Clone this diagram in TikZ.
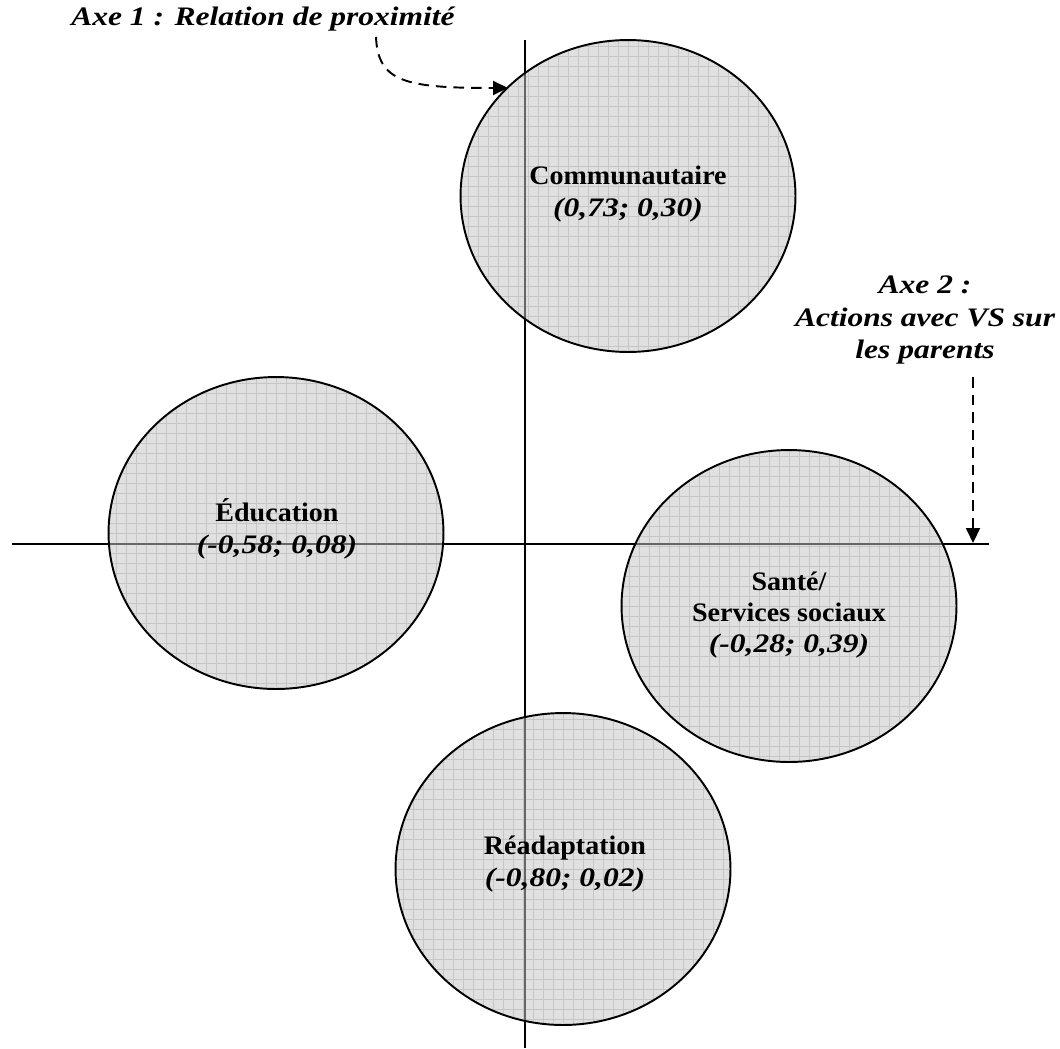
\documentclass[tikz,border=0pt]{standalone}
\usepackage{fontspec}
\setmainfont{Liberation Serif}[BoldFeatures={FakeStretch=1.05},BoldItalicFeatures={FakeStretch=1.18}]
\usetikzlibrary{arrows.meta,shapes.geometric}
\definecolor{cellfill}{RGB}{224,224,224}
\definecolor{cellline}{RGB}{198,198,198}
\tikzset{
  axisline/.style={line width=1.1pt,black},
  innerline/.style={line width=1.1pt,black!60},
  gridline/.style={cellline,line width=0.5pt},
  bubble/.style={ellipse,draw=black,line width=1.1pt,fill=cellfill,
    minimum width=6.7cm,minimum height=6.24cm,inner sep=0pt,
    path picture={
      \draw[gridline,step=0.2cm] ([xshift=-1cm,yshift=-1cm]path picture bounding box.south west) grid ([xshift=1cm,yshift=1cm]path picture bounding box.north east);
      \draw[innerline] (axL) -- (axR) (axT) -- (axB);
    }},
  lab/.style={font=\bfseries\fontsize{15.2}{17.8}\selectfont,align=center,inner sep=0pt},
  callout/.style={font=\bfseries\itshape\fontsize{15.2}{18.6}\selectfont,align=center,inner sep=0pt},
  pointer/.style={dashed,dash pattern=on 6pt off 4pt,line width=1.1pt,-{Triangle[length=0.3cm,width=0.28cm]}}
}
\begin{document}
\begin{tikzpicture}[x=0.02cm,y=-0.02cm]
\useasboundingbox (0,0) rectangle (1060,1048);
% axes
\coordinate (axL) at (12,544);
\coordinate (axR) at (989,544);
\coordinate (axT) at (525,40);
\coordinate (axB) at (525,1048);
\draw[axisline] (axL) -- (axR);
\draw[axisline] (axT) -- (axB);
% bubbles
\node[bubble] (com) at (628,196) {};
\node[bubble] (edu) at (276,533) {};
\node[bubble] (san) at (789,606) {};
\node[bubble] (rea) at (563,869) {};
% labels
\node[lab] (tcom) at (628,194) {Communautaire\\\textit{(0,73; 0,30)}};
\node[lab] (tedu) at (277,529) {Éducation\\\textit{(-0,58; 0,08)}};
\node[lab] (tsan) at (789,615) {Santé/\\Services sociaux\\\textit{(-0,28; 0,39)}};
\node[lab] (trea) at (565,864) {Réadaptation\\\textit{(-0,80; 0,02)}};
% callouts
\node[callout] (ax1) at (263,19) {Axe 1 : Relation de proximité};
\node[callout] (ax2) at (925,320) {Axe 2 :\\Actions avec VS sur\\les parents};
\coordinate (a1s) at (376,37);
\coordinate (a1e) at (508,88);
\coordinate (a2s) at (973,377);
\coordinate (a2e) at (973,543);
\draw[pointer] (a1s) .. controls (378,82) and (405,88) .. (a1e);
\draw[pointer] (a2s) -- (a2e);
\end{tikzpicture}
\end{document}
